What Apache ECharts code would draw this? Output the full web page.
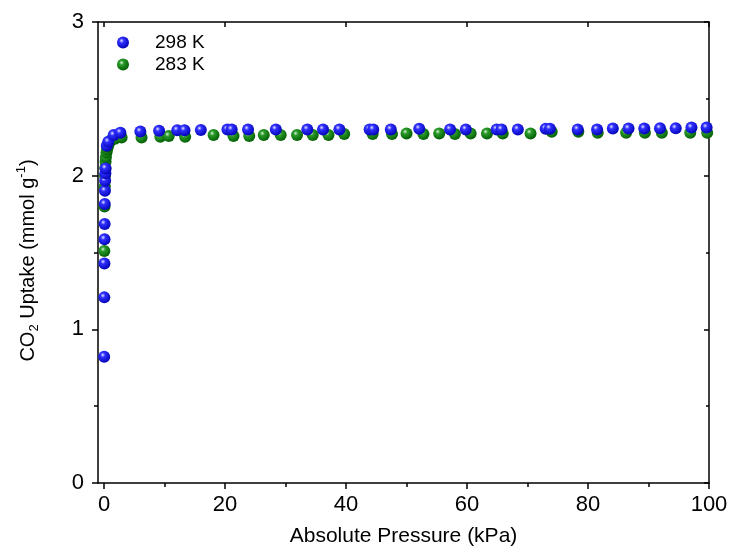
<!DOCTYPE html>
<html>
<head>
<meta charset="utf-8">
<script src="https://cdn.jsdelivr.net/npm/echarts@6/dist/echarts.min.js"></script>
<style>html,body{margin:0;padding:0;background:#fff;}#chart{width:735px;height:552px;}</style>
</head>
<body>
<div id="chart"></div>
<script>
const seriesNames = ['298 K', '283 K'];
const xMajorTicks = [0, 20, 40, 60, 80, 100];
const xMinorTicks = [10, 30, 50, 70, 90];

const x298 = [0.02,0.04,0.06,0.08,0.1,0.12,0.15,0.18,0.22,0.26,0.45,0.7,1.6,2.7,6.0,9.1,12.1,13.3,16.0,20.4,21.1,23.8,28.4,33.6,36.2,38.9,43.9,44.5,47.4,52.1,57.2,59.8,64.9,65.7,68.4,73.0,73.7,78.3,81.5,84.1,86.7,89.3,91.9,94.5,97.1,99.6];
const y298 = [0.822,1.208,1.429,1.586,1.685,1.815,1.902,1.967,2.015,2.047,2.195,2.22,2.264,2.28,2.287,2.292,2.296,2.296,2.297,2.300,2.300,2.300,2.301,2.301,2.301,2.301,2.301,2.301,2.301,2.305,2.301,2.301,2.301,2.301,2.301,2.306,2.306,2.301,2.301,2.307,2.307,2.307,2.308,2.308,2.313,2.313];

const x283 = [0.05,0.08,0.12,0.16,0.2,0.25,0.3,0.4,0.5,0.65,0.8,1.0,1.3,1.8,2.9,6.2,9.3,10.7,13.4,18.1,21.4,24.0,26.4,29.2,31.9,34.5,37.1,39.7,44.4,47.6,50.0,52.8,55.4,58.0,60.6,63.3,65.9,70.5,74.0,78.4,81.6,86.3,89.4,92.2,96.9,99.7];
const y283 = [1.51,1.80,1.93,2.00,2.05,2.09,2.12,2.15,2.17,2.19,2.21,2.225,2.235,2.24,2.249,2.249,2.253,2.258,2.253,2.264,2.258,2.258,2.264,2.264,2.264,2.264,2.264,2.271,2.271,2.271,2.275,2.271,2.275,2.271,2.275,2.275,2.275,2.275,2.286,2.286,2.279,2.279,2.279,2.279,2.279,2.279];

const FONT = "'Liberation Sans', Arial, sans-serif";
const NARROW = "'Liberation Sans Narrow', 'Arial Narrow', 'Liberation Sans', sans-serif";
const pair = (xs, ys) => xs.map((x, i) => [x, ys[i]]);

function sphere(light, mid, dark) {
  return {
    type: 'radial', x: 0.38, y: 0.35, r: 0.7,
    colorStops: [
      { offset: 0, color: light },
      { offset: 0.28, color: mid },
      { offset: 1, color: dark }
    ]
  };
}

const axisLine = { show: true, onZero: false, lineStyle: { color: '#000', width: 1.5 } };

const chart = echarts.init(document.getElementById('chart'), null, { renderer: 'canvas' });
chart.setOption({
  animation: false,
  backgroundColor: '#fff',
  textStyle: { fontFamily: FONT },
  grid: { left: 98, right: 26, top: 22, bottom: 69, containLabel: false },
  legend: {
    data: seriesNames,
    orient: 'vertical',
    left: 112,
    top: 28,
    itemWidth: 54,
    itemHeight: 12,
    itemGap: 3,
    textStyle: { fontFamily: FONT, fontSize: 19, color: '#000' }
  },
  xAxis: [
    {
      type: 'value', min: -1, max: 100, position: 'bottom',
      axisLine: axisLine,
      axisTick: { show: true, customValues: xMajorTicks, length: 6, inside: false, lineStyle: { color: '#000', width: 1.5 } },
      axisLabel: { customValues: xMajorTicks, fontSize: 22, color: '#000', margin: 11, fontFamily: NARROW },
      splitLine: { show: false },
      name: 'Absolute Pressure (kPa)',
      nameLocation: 'middle',
      nameGap: 43,
      nameTextStyle: { fontSize: 21, color: '#000', fontFamily: FONT }
    },
    {
      type: 'value', min: -1, max: 100, position: 'bottom',
      axisLine: { show: false },
      axisTick: { show: true, customValues: xMinorTicks, length: 4, inside: false, lineStyle: { color: '#000', width: 1.5 } },
      axisLabel: { show: false },
      splitLine: { show: false }
    },
    {
      type: 'value', min: -1, max: 100, position: 'top',
      axisLine: axisLine,
      axisTick: { show: true, customValues: xMajorTicks, length: 5, inside: true, lineStyle: { color: '#000', width: 1.5 } },
      axisLabel: { show: false },
      splitLine: { show: false }
    },
    {
      type: 'value', min: -1, max: 100, position: 'top',
      axisLine: { show: false },
      axisTick: { show: true, customValues: xMinorTicks, length: 3, inside: true, lineStyle: { color: '#000', width: 1.5 } },
      axisLabel: { show: false },
      splitLine: { show: false }
    }
  ],
  yAxis: [
    {
      type: 'value', min: 0, max: 3, interval: 1, position: 'left',
      axisLine: axisLine,
      axisTick: { show: true, length: 6, inside: false, lineStyle: { color: '#000', width: 1.5 } },
      minorTick: { show: true, splitNumber: 2, length: 4, lineStyle: { color: '#000', width: 1.5 } },
      axisLabel: { fontSize: 22, color: '#000', margin: 14, fontFamily: NARROW },
      splitLine: { show: false },
      minorSplitLine: { show: false },
      name: 'CO{sub|2} Uptake (mmol g{sup|-1})',
      nameLocation: 'middle',
      nameRotate: 90,
      nameGap: 57,
      nameTextStyle: {
        fontSize: 20, color: '#000', fontFamily: FONT, lineHeight: 26,
        padding: [0, 16, 0, 0],
        rich: {
          sub: { fontSize: 13, verticalAlign: 'bottom', lineHeight: 12, fontFamily: FONT, color: '#000' },
          sup: { fontSize: 13, verticalAlign: 'top', lineHeight: 12, fontFamily: FONT, color: '#000' }
        }
      }
    },
    {
      type: 'value', min: 0, max: 3, interval: 1, position: 'right',
      axisLine: axisLine,
      axisTick: { show: true, length: 5, inside: true, lineStyle: { color: '#000', width: 1.5 } },
      minorTick: { show: true, splitNumber: 2, length: 3, lineStyle: { color: '#000', width: 1.5 } },
      axisLabel: { show: false },
      splitLine: { show: false },
      minorSplitLine: { show: false }
    }
  ],
  series: [
    {
      name: seriesNames[1],
      type: 'scatter',
      xAxisIndex: 0, yAxisIndex: 0,
      symbol: 'circle',
      symbolSize: 12,
      itemStyle: { color: sphere('#d6f2d6', '#2a9a2a', '#005a00'), opacity: 1 },
      data: pair(x283, y283)
    },
    {
      name: seriesNames[0],
      type: 'scatter',
      xAxisIndex: 0, yAxisIndex: 0,
      symbol: 'circle',
      symbolSize: 12,
      itemStyle: { color: sphere('#e4e4ff', '#3030ff', '#0000b0'), opacity: 1 },
      data: pair(x298, y298)
    }
  ]
});
</script>
</body>
</html>
